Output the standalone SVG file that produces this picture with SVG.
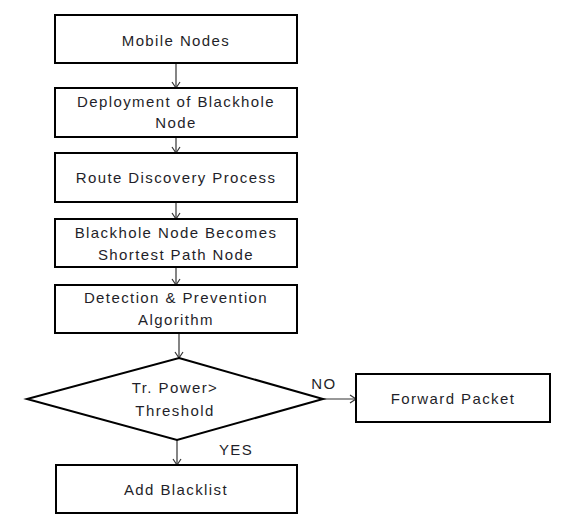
<svg xmlns="http://www.w3.org/2000/svg" width="572" height="521" viewBox="0 0 572 521">
<style>
.box{fill:#fff;stroke:#000;stroke-width:2}
.t{font-family:"Liberation Sans",Arial,sans-serif;font-size:15px;letter-spacing:1.4px;fill:#1f1f2a;text-anchor:middle}
.c{fill:none;stroke:#333;stroke-width:1.2}
</style>
<defs>
<marker id="a" markerWidth="10" markerHeight="10" refX="8" refY="5" orient="auto" markerUnits="userSpaceOnUse">
<path d="M2,1 L8,5 L2,9" fill="none" stroke="#333" stroke-width="1.2"/>
</marker>
</defs>
<rect width="572" height="521" fill="#fff"/>
<g id="connectors">
<line class="c" x1="176" y1="63" x2="176" y2="88" marker-end="url(#a)"/>
<line class="c" x1="176" y1="137" x2="176" y2="153" marker-end="url(#a)"/>
<line class="c" x1="176" y1="202" x2="176" y2="219" marker-end="url(#a)"/>
<line class="c" x1="176" y1="267" x2="176" y2="285" marker-end="url(#a)"/>
<line class="c" x1="179" y1="333" x2="179" y2="358" marker-end="url(#a)"/>
<line class="c" x1="177" y1="440" x2="177" y2="465" marker-end="url(#a)"/>
<line class="c" x1="323" y1="399" x2="356" y2="399" marker-end="url(#a)"/>
<text class="t" x="324" y="389">NO</text>
<text class="t" x="236" y="455">YES</text>
</g>
<g id="mobile-nodes">
<rect class="box" x="55" y="15" width="242" height="48"/>
<text class="t" x="176" y="46">Mobile Nodes</text>
</g>
<g id="deployment">
<rect class="box" x="55" y="88" width="242" height="49"/>
<text class="t" x="176" y="107">Deployment of Blackhole</text>
<text class="t" x="176" y="128">Node</text>
</g>
<g id="route-discovery">
<rect class="box" x="55" y="153" width="242" height="49"/>
<text class="t" x="176" y="183">Route Discovery Process</text>
</g>
<g id="shortest-path">
<rect class="box" x="55" y="219" width="242" height="48"/>
<text class="t" x="176" y="238">Blackhole Node Becomes</text>
<text class="t" x="176" y="260">Shortest Path Node</text>
</g>
<g id="detection">
<rect class="box" x="55" y="285" width="242" height="48"/>
<text class="t" x="176" y="303">Detection &amp; Prevention</text>
<text class="t" x="176" y="325">Algorithm</text>
</g>
<g id="decision">
<polygon class="box" points="179,358 323,399 177,440 27,399"/>
<text class="t" x="175" y="393">Tr. Power&gt;</text>
<text class="t" x="175" y="416">Threshold</text>
</g>
<g id="forward-packet">
<rect class="box" x="356" y="374" width="194" height="48"/>
<text class="t" x="453" y="404">Forward Packet</text>
</g>
<g id="add-blacklist">
<rect class="box" x="56" y="465" width="241" height="48"/>
<text class="t" x="176" y="495">Add Blacklist</text>
</g>
</svg>
